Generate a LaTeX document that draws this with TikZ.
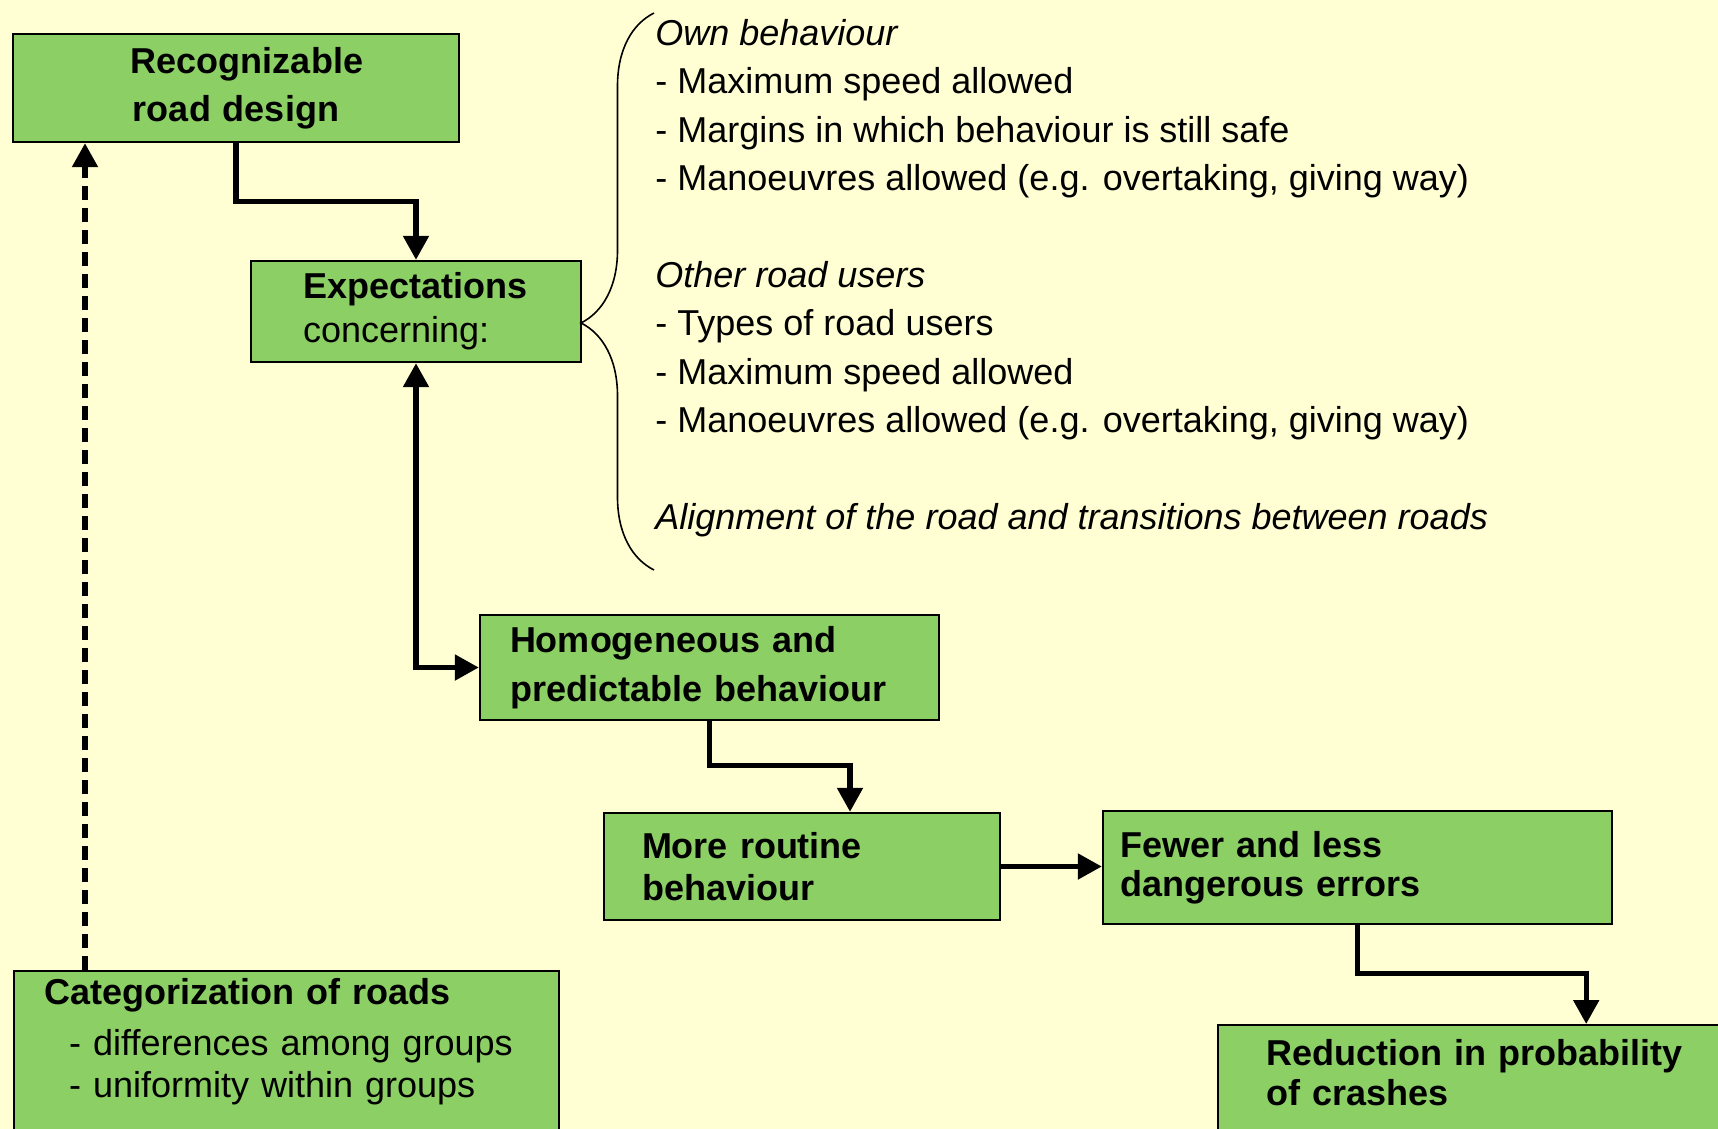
\documentclass[tikz,border=0pt]{standalone}
\usepackage{fontspec}
\setmainfont{Liberation Sans}
\usetikzlibrary{arrows.meta, decorations.pathreplacing}
\definecolor{bgyellow}{RGB}{255,255,211}
\definecolor{boxgreen}{RGB}{140,207,101}
\newcommand{\fsz}[1]{\fontsize{18pt}{#1}\selectfont}
\tikzset{
  flowtip/.tip={Triangle[length=12pt,width=12.5pt]},
  flowbox/.style={draw=black, line width=1.2pt, fill=boxgreen, align=left, inner ysep=0pt},
  flowarrow/.style={line width=2.6pt, -flowtip},
  dasharrow/.style={line width=2.6pt, dash pattern=on 7pt off 4pt, -flowtip}
}
\begin{document}
\begin{tikzpicture}[x=0.5pt, y=-0.5pt]
\fill[bgyellow] (0,0) rectangle (1718,1129);
\useasboundingbox (0,0) rectangle (1718,1129);
% boxes of the chain
\node[flowbox, align=center, text width=223pt, inner xsep=0pt, minimum height=54pt,
  font=\fsz{24pt}\bfseries] (design) at (236,88) {\hspace*{11pt}Recognizable\\road design\hspace*{6pt}};
\node[flowbox, text width=113pt, inner xsep=26pt, minimum height=50.5pt,
  font=\fsz{22pt}] (expect) at (416,311.5) {\textbf{Expectations}\\concerning:};
\node[flowbox, text width=199.5pt, inner xsep=15pt, minimum height=52.5pt,
  font=\fsz{24.5pt}\bfseries] (homog) at (709.5,667.5) {Homogeneous and\\predictable behaviour};
\node[flowbox, text width=160pt, inner xsep=19pt, minimum height=53.5pt,
  font=\fsz{21pt}\bfseries] (routine) at (802,866.5) {More routine\\behaviour};
\node[flowbox, text width=237.5pt, inner xsep=8.5pt, minimum height=56.5pt,
  font=\fsz{19.5pt}\bfseries] (errors) at (1357.5,867.5) {Fewer and less\\dangerous errors};
\node[flowbox, anchor=north west, text width=238.5pt, inner xsep=24pt, inner ysep=7.25pt,
  text depth=60pt, font=\fsz{20pt}\bfseries] (crashes) at (1217,1024) {Reduction in probability\\of crashes};
\node[flowbox, anchor=north west, text width=242.5pt, inner xsep=15pt, inner ysep=3.5pt,
  text depth=60pt, font=\fsz{21pt}\bfseries] (categ) at (13,970)
  {Categorization of roads\\[4.5pt]\mdseries\hspace*{12.5pt}- differences among groups\\\hspace*{12.5pt}- uniformity within groups};
% what the expectations concern
\node[anchor=west, align=left, inner xsep=0pt, font=\fsz{24.2pt}] (concern) at (655,278)
  {\textit{Own behaviour}\\- Maximum speed allowed\\- Margins in which behaviour is still safe\\- Manoeuvres allowed (e.g. overtaking, giving way)\\[24.2pt]
   \textit{Other road users}\\- Types of road users\\- Maximum speed allowed\\- Manoeuvres allowed (e.g. overtaking, giving way)\\[24.2pt]
   \textit{Alignment of the road and transitions between roads}};
% brace
\coordinate (bracebot) at (654,570);
\coordinate (bracetop) at (654,13);
\draw[line width=0.8pt, decorate, decoration={brace, amplitude=36.5pt, aspect=0.4435}] (bracebot) -- (bracetop);
% arrows
\draw[flowarrow] (design.south) -- ++(0,58) -| (expect.north);
\draw[flowarrow, flowtip-flowtip] (expect.south) |- (homog.west);
\draw[flowarrow] (homog.south) -- ++(0,44) -| ([xshift=24pt]routine.north);
\draw[flowarrow] (routine.east) -- (routine.east -| errors.west);
\draw[flowarrow] (errors.south) -- ++(0,48) -| ([xshift=40.75pt]crashes.north);
\coordinate (dashx) at (85,0);
\draw[dasharrow] (categ.north -| dashx) -- (design.south -| dashx);
\end{tikzpicture}
\end{document}
